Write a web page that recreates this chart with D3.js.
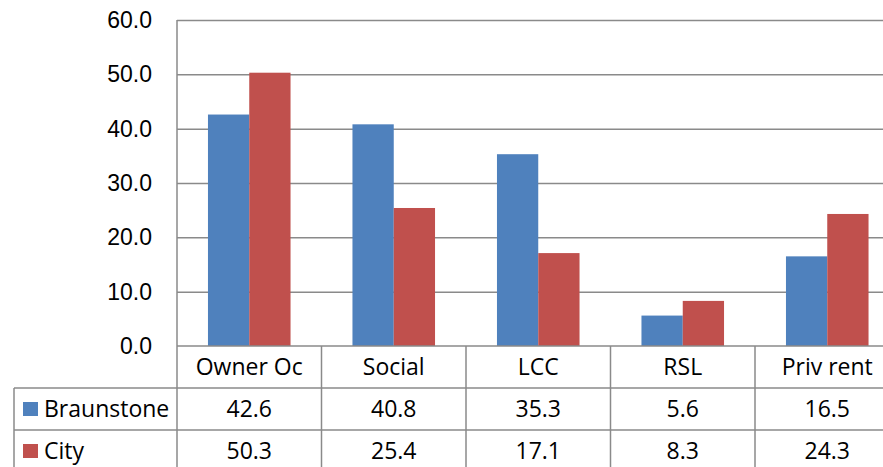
<!DOCTYPE html>
<html>
<head>
<meta charset="utf-8">
<script src="https://cdn.jsdelivr.net/npm/d3@7"></script>
<style>
  body { margin: 0; background: #fff; }
  svg { display: block; font-family: "Open Sans", Lato, sans-serif; }
  .y-axis text, .cell { font-size: 23px; fill: #000; }
  .y-axis path, .y-axis line { display: none; }
  .grid line { stroke: #8a8a8a; stroke-width: 1.5; }
  .grid path { display: none; }
  .rule { stroke: #8a8a8a; stroke-width: 1.5; }
</style>
</head>
<body>
<svg></svg>
<script>
const categories = ["Owner Oc", "Social", "LCC", "RSL", "Priv rent"]
const seriesNames = ["Braunstone", "City"]
const braunstone = [42.6, 40.8, 35.3, 5.6, 16.5]
const city = [50.3, 25.4, 17.1, 8.3, 24.3]
const colors = ["#4f81bd", "#c0504d"]
const yTicks = [0, 10, 20, 30, 40, 50, 60]

const values = [braunstone, city]

const svg = d3.select("svg")
  .attr("width", 883)
  .attr("height", 467)

const plotLeft = 177
const plotRight = 899.5
const plotTop = 20
const base = 346
const rowH = 42
const tableLeft = 14

const scaleX = d3.scaleBand()
  .domain(categories)
  .range([plotLeft, plotRight])

const scaleS = d3.scaleBand()
  .domain(seriesNames)
  .range([0, scaleX.bandwidth()])
  .paddingOuter(0.75)

const scaleY = d3.scaleLinear()
  .domain([0, 60])
  .range([base, plotTop])

// gridlines
svg.append("g")
  .attr("class", "grid")
  .attr("transform", `translate(${plotLeft}, 0)`)
  .call(d3.axisLeft(scaleY)
    .tickValues(yTicks.slice(1))
    .tickSizeInner(-(plotRight - plotLeft))
    .tickSizeOuter(0)
    .tickFormat(""))

svg.append("g")
  .attr("class", "y-axis")
  .attr("transform", "translate(152, 0)")
  .call(d3.axisLeft(scaleY)
    .tickValues(yTicks)
    .tickSize(0)
    .tickPadding(0)
    .tickFormat(d3.format(".1f")))

// bars
const groups = svg.selectAll("g.cat")
  .data(categories)
  .enter()
  .append("g")
  .attr("class", "cat")
  .attr("transform", (d) => `translate(${scaleX(d)}, 0)`)

groups.selectAll("rect")
  .data((d, i) => seriesNames.map((s, j) => ({ s: s, v: values[j][i], j: j })))
  .enter()
  .append("rect")
  .attr("x", (d) => scaleS(d.s))
  .attr("y", (d) => scaleY(d.v))
  .attr("width", scaleS.bandwidth())
  .attr("height", (d) => base - scaleY(d.v))
  .attr("fill", (d) => colors[d.j])

// data table rules
const bottom = 470
svg.append("line").attr("class", "rule")
  .attr("x1", plotLeft).attr("x2", plotLeft).attr("y1", plotTop).attr("y2", bottom)
svg.append("line").attr("class", "rule")
  .attr("x1", plotLeft).attr("x2", plotRight).attr("y1", base).attr("y2", base)
svg.append("line").attr("class", "rule")
  .attr("x1", tableLeft).attr("x2", tableLeft).attr("y1", base + rowH).attr("y2", bottom)
;[1, 2].forEach((r) => {
  svg.append("line").attr("class", "rule")
    .attr("x1", tableLeft).attr("x2", plotRight)
    .attr("y1", base + r * rowH).attr("y2", base + r * rowH)
})
categories.forEach((c) => {
  const x = scaleX(c) + scaleX.bandwidth()
  svg.append("line").attr("class", "rule")
    .attr("x1", x).attr("x2", x).attr("y1", base).attr("y2", bottom)
})

// category labels
svg.selectAll("text.catlabel")
  .data(categories)
  .enter()
  .append("text")
  .attr("class", "cell")
  .attr("x", (d) => scaleX(d) + scaleX.bandwidth() / 2)
  .attr("y", base + rowH / 2)
  .attr("dy", "0.35em")
  .attr("text-anchor", "middle")
  .text((d) => d)

// series rows
seriesNames.forEach((s, j) => {
  const cy = base + (j + 1) * rowH + rowH / 2
  svg.append("rect")
    .attr("x", 23).attr("y", cy - 7)
    .attr("width", 15).attr("height", 14)
    .attr("fill", colors[j])
  svg.append("text")
    .attr("class", "cell")
    .attr("x", 44).attr("y", cy)
    .attr("dy", "0.35em")
    .text(s)
  svg.selectAll(null)
    .data(values[j])
    .enter()
    .append("text")
    .attr("class", "cell")
    .attr("x", (d, i) => scaleX(categories[i]) + scaleX.bandwidth() / 2)
    .attr("y", cy)
    .attr("dy", "0.35em")
    .attr("text-anchor", "middle")
    .text((d) => d3.format(".1f")(d))
})
</script>
</body>
</html>
